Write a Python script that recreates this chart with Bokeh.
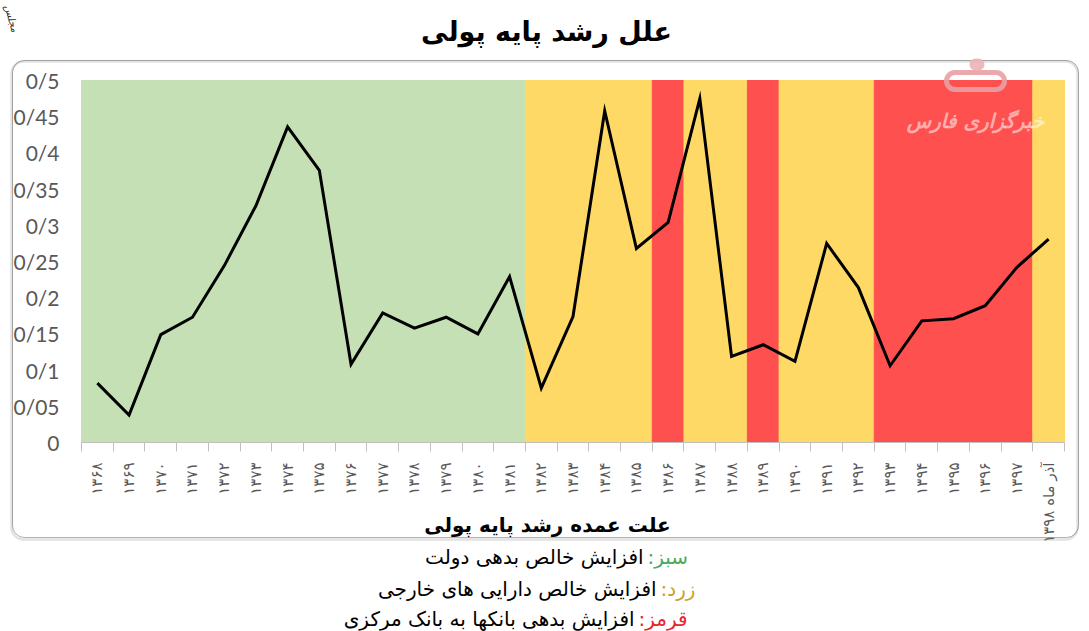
import numpy as np
from bokeh.plotting import figure
from bokeh.models import (Range1d, FixedTicker, CustomJSTickFormatter, Label,
                          BoxAnnotation, ColumnDataSource, LinearAxis)
from bokeh.embed import file_html
from bokeh.resources import INLINE

# ---------------- data ----------------
years = ["۱۳۶۸", "۱۳۶۹", "۱۳۷۰", "۱۳۷۱", "۱۳۷۲", "۱۳۷۳", "۱۳۷۴", "۱۳۷۵",
         "۱۳۷۶", "۱۳۷۷", "۱۳۷۸", "۱۳۷۹", "۱۳۸۰", "۱۳۸۱", "۱۳۸۲", "۱۳۸۳",
         "۱۳۸۴", "۱۳۸۵", "۱۳۸۶", "۱۳۸۷", "۱۳۸۸", "۱۳۸۹", "۱۳۹۰", "۱۳۹۱",
         "۱۳۹۲", "۱۳۹۳", "۱۳۹۴", "۱۳۹۵", "۱۳۹۶", "۱۳۹۷", "آذر ماه ۱۳۹۸"]

growth = [0.082, 0.038, 0.149, 0.173, 0.244, 0.327, 0.436, 0.376, 0.108, 0.179,
          0.158, 0.173, 0.150, 0.229, 0.075, 0.174, 0.458, 0.268, 0.304, 0.475,
          0.119, 0.135, 0.112, 0.275, 0.214, 0.106, 0.168, 0.171, 0.189, 0.242,
          0.281]

cause = ["green", "green", "green", "green", "green", "green", "green", "green",
         "green", "green", "green", "green", "green", "green",
         "yellow", "yellow", "yellow", "yellow", "red", "yellow", "yellow", "red",
         "yellow", "yellow", "yellow", "red", "red", "red", "red", "red", "yellow"]

y_ticks = [0, 0.05, 0.1, 0.15, 0.2, 0.25, 0.3, 0.35, 0.4, 0.45, 0.5]
y_tick_labels = ["0", "0/05", "0/1", "0/15", "0/2", "0/25", "0/3", "0/35",
                 "0/4", "0/45", "0/5"]

title_text = "علل رشد پایه پولی"
xaxis_title = "علت عمده رشد پایه پولی"
legend_keys = ["سبز:\u200f", "زرد:\u200f", "قرمز:\u200f"]
legend_texts = ["افزایش خالص بدهی دولت", "افزایش خالص دارایی های خارجی",
                "افزایش بدهی بانکها به بانک مرکزی"]
watermark = "خبرگزاری فارس"
corner_text = "مجلس"

# ---------------- layout / styles ----------------
band_colors = {"green": "#C5E0B4", "yellow": "#FFD966", "red": "#FF5050"}
key_colors = ["#4EA85C", "#C9A227", "#E8262B"]
FA = "DejaVu Sans"

W, H = 1089, 631
PX_L, PX_R, PX_T, PX_B = 81, 1064, 80, 442   # plot-area pixel box
n = len(years)
y_top = y_ticks[-1]
upx = n / (PX_R - PX_L)            # x data units per pixel
vpx = y_top / (PX_B - PX_T)        # y data units per pixel
x_range = Range1d(-PX_L * upx, n + (W - PX_R) * upx)
y_range = Range1d(-(H - PX_B) * vpx, y_top + PX_T * vpx)

xs = [i + 0.5 for i in range(n)]
src = ColumnDataSource(dict(x=xs, y=growth,
                            color=[band_colors[c] for c in cause]))

p = figure(width=W, height=H, output_backend="svg", toolbar_location=None,
           x_range=x_range, y_range=y_range,
           x_axis_location=None, y_axis_location=None,
           min_border=0)
p.background_fill_color = "white"
p.border_fill_color = "white"
p.outline_line_color = None
p.xgrid.visible = False
p.ygrid.visible = False

# background bands
p.vbar(x="x", width=1, bottom=0, top=y_top, fill_color="color",
       line_color="color", line_width=1, source=src)
# line
p.line(x="x", y="y", source=src, line_color="black", line_width=3,
       line_join="miter")

# y axis
ya = LinearAxis(fixed_location=0)
ya.ticker = FixedTicker(ticks=y_ticks, minor_ticks=[])
ya.formatter = CustomJSTickFormatter(args=dict(labels=y_tick_labels, step=0.05),
                                     code="return labels[Math.round(tick/step)];")
ya.axis_line_color = None
ya.major_tick_line_color = None
ya.minor_tick_line_color = None
ya.major_tick_out = 0
ya.major_tick_in = 0
ya.major_label_standoff = 22
ya.major_label_text_font = "Lato"
ya.major_label_text_font_size = "21px"
ya.major_label_text_color = "#595959"
p.add_layout(ya, "left")

# x axis
xa = LinearAxis(fixed_location=0, bounds=(0, n))
xa.ticker = FixedTicker(ticks=xs, minor_ticks=list(range(n + 1)))
xa.formatter = CustomJSTickFormatter(args=dict(labels=years),
                                     code="return labels[Math.floor(tick)] || '';")
xa.major_label_orientation = np.pi / 2
xa.axis_line_color = "#BFBFBF"
xa.major_tick_line_color = None
xa.major_tick_out = 0
xa.major_tick_in = 0
xa.minor_tick_line_color = "#BFBFBF"
xa.minor_tick_out = 9
xa.minor_tick_in = 0
xa.major_label_standoff = 11
xa.major_label_text_font = FA
xa.major_label_text_font_size = "15px"
xa.major_label_text_color = "#595959"
p.add_layout(xa, "below")


def canvas_box(l, r, t, b, **kw):
    return BoxAnnotation(left=l, right=r, top=t, bottom=b,
                         left_units="canvas", right_units="canvas",
                         top_units="canvas", bottom_units="canvas", **kw)


# outer rounded border (with shadow)
p.add_layout(canvas_box(11, 1077, 61, 539, fill_color=None, line_color="#A0A0A0",
                        line_width=2.5, border_radius=12))
p.add_layout(canvas_box(12, 1078, 60, 537, fill_color=None, line_color="black",
                        line_width=1, border_radius=12))

# watermark logo
p.add_layout(canvas_box(946, 1004, 72, 89, fill_color=None, line_color="#E8A0A4",
                        line_alpha=0.9, line_width=5, border_radius=9))
p.add_layout(canvas_box(969, 984, 58, 70, fill_color="#EDB3B6", fill_alpha=0.9,
                        line_color=None, border_radius=7))
p.add_layout(Label(x=975, y=120, x_units="canvas", y_units="canvas",
                   text=watermark, text_font=FA, text_font_size="20px",
                   text_font_style="bold italic", text_color="white",
                   text_alpha=0.55, text_align="center", text_baseline="middle"))

# corner text
p.add_layout(Label(x=11, y=18, x_units="canvas", y_units="canvas",
                   text=corner_text, text_font=FA, text_font_size="10px",
                   text_font_style="italic", text_color="#333333",
                   text_align="center", text_baseline="middle", angle=-1.3))

# title
p.add_layout(Label(x=546, y=31, x_units="canvas", y_units="canvas",
                   text=title_text, text_font=FA, text_font_size="27px",
                   text_font_style="bold", text_color="black",
                   text_align="center", text_baseline="middle"))

# x axis title
p.add_layout(Label(x=547, y=524, x_units="canvas", y_units="canvas",
                   text=xaxis_title, text_font=FA, text_font_size="20px",
                   text_font_style="bold", text_color="black",
                   text_align="center", text_baseline="middle"))

# legend lines
leg_y = [556, 588, 618]
leg_split = [645, 658, 636]
for key, txt, col, yy, xx in zip(legend_keys, legend_texts, key_colors, leg_y, leg_split):
    p.add_layout(Label(x=xx + 2, y=yy, x_units="canvas", y_units="canvas",
                       text=key, text_font=FA, text_font_size="20px",
                       text_color=col, text_align="left", text_baseline="middle"))
    p.add_layout(Label(x=xx - 2, y=yy, x_units="canvas", y_units="canvas",
                       text=txt, text_font=FA, text_font_size="20px",
                       text_color="black", text_align="right",
                       text_baseline="middle"))

open("out.html", "w").write(file_html(p, INLINE))
